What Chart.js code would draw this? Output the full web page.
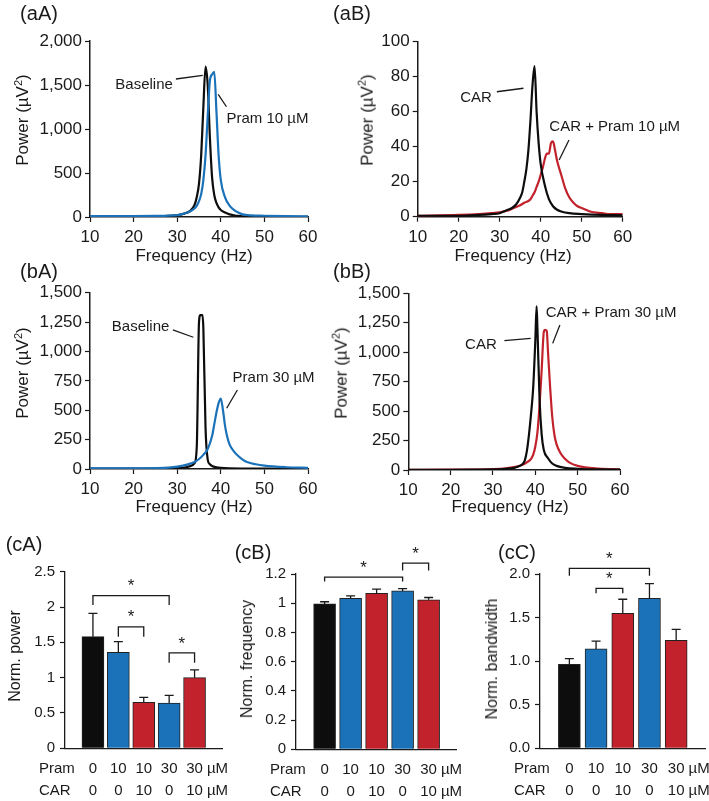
<!DOCTYPE html>
<html>
<head>
<meta charset="utf-8">
<script src="https://cdn.jsdelivr.net/npm/chart.js@4.4.0/dist/chart.umd.min.js"></script>
<style>
  body { margin: 0; background: #fff; font-family: "Liberation Sans", Arial, sans-serif; color: #1a1a1a; }
  #fig { position: relative; width: 709px; height: 801px; overflow: hidden; }
  canvas { position: absolute; }
  .lbl { position: absolute; white-space: nowrap; line-height: 1; transform: translate(-50%, -50%); }
  .rot { transform: translate(-50%, -50%) rotate(-90deg); }
  .pl { font-size: 20px; }
  .ax { font-size: 17px; }
  .bx { font-size: 16px; }
</style>
</head>
<body>
<div id="fig">
  <canvas id="aA" width="350" height="250" style="left:0;top:0"></canvas>
  <canvas id="aB" width="359" height="250" style="left:350px;top:0"></canvas>
  <canvas id="bA" width="350" height="250" style="left:0;top:250px"></canvas>
  <canvas id="bB" width="359" height="250" style="left:350px;top:250px"></canvas>
  <canvas id="cA" width="235" height="281" style="left:0;top:520px"></canvas>
  <canvas id="cB" width="235" height="281" style="left:235px;top:520px"></canvas>
  <canvas id="cC" width="239" height="281" style="left:470px;top:520px"></canvas>

  <div class="lbl pl" style="left:39px;top:13px">(aA)</div>
  <div class="lbl pl" style="left:352px;top:13px">(aB)</div>
  <div class="lbl pl" style="left:39px;top:271px">(bA)</div>
  <div class="lbl pl" style="left:352px;top:271px">(bB)</div>
  <div class="lbl pl" style="left:24px;top:544px">(cA)</div>
  <div class="lbl pl" style="left:253px;top:552px">(cB)</div>
  <div class="lbl pl" style="left:517px;top:552px">(cC)</div>

  <div class="lbl ax rot" style="left:22px;top:120px">Power (µV<sup style="font-size:11px">2</sup>)</div>
  <div class="lbl ax rot" style="left:366px;top:120px">Power (µV<sup style="font-size:11px">2</sup>)</div>
  <div class="lbl ax rot" style="left:22px;top:373px">Power (µV<sup style="font-size:11px">2</sup>)</div>
  <div class="lbl ax rot" style="left:340px;top:373px">Power (µV<sup style="font-size:11px">2</sup>)</div>
  <div class="lbl ax" style="left:194px;top:255px">Frequency (Hz)</div>
  <div class="lbl ax" style="left:513px;top:255px">Frequency (Hz)</div>
  <div class="lbl ax" style="left:194px;top:506px">Frequency (Hz)</div>
  <div class="lbl ax" style="left:510px;top:506px">Frequency (Hz)</div>

  <div class="lbl bx rot" style="left:15px;top:656px">Norm. power</div>
  <div class="lbl bx rot" style="left:247px;top:659px">Norm. frequency</div>
  <div class="lbl bx rot" style="left:492px;top:659px">Norm. bandwidth</div>
</div>

<script>
// spectra (Hz, µV^2)
const F_AA_BASE = [10, 15, 20, 25, 28, 30, 31, 32, 33, 34, 34.5, 35, 35.5, 36, 36.5, 37, 37.5, 38, 38.5, 39, 39.5, 40, 41, 42, 43, 44, 45, 47, 50, 55, 60];
const P_AA_BASE = [5, 5, 5, 8, 12, 20, 30, 45, 70, 140, 230, 380, 700, 1250, 1710, 1500, 900, 450, 250, 160, 110, 80, 50, 30, 20, 12, 8, 5, 4, 3, 3];
const F_AA_PRAM = [10, 15, 20, 25, 28, 30, 31, 32, 33, 34, 34.5, 35, 35.5, 36, 36.5, 37, 37.5, 38, 38.5, 39, 39.5, 40, 41, 42, 43, 44, 45, 47, 50, 55, 60];
const P_AA_PRAM = [10, 10, 10, 12, 15, 22, 30, 45, 65, 100, 130, 180, 260, 420, 700, 1150, 1550, 1620, 1650, 1200, 700, 420, 220, 130, 80, 50, 30, 18, 14, 10, 8];

const F_AB_CAR = [10, 20, 25, 28, 30, 31, 32, 33, 34, 35, 35.5, 36, 36.5, 37, 37.5, 38, 38.5, 39, 39.5, 40, 41, 42, 43, 44, 45, 47, 50, 55, 60];
const P_AB_CAR = [0.5, 0.5, 1, 1.5, 2, 3, 4, 5, 7, 11, 14, 20, 27, 38, 55, 75, 86, 60, 42, 30, 18, 10, 6, 4, 3, 2, 1.5, 1, 0.8];
const F_AB_MIX = [10, 20, 25, 28, 30, 31, 32, 33, 34, 35, 36, 37, 37.5, 38, 38.5, 39, 39.5, 40, 40.5, 41, 41.5, 42, 42.5, 43, 43.5, 44, 45, 46, 47, 48, 49, 50, 51, 52, 55, 57, 60];
const P_AB_MIX = [0.5, 1, 1.5, 2, 2.5, 3, 3.5, 4.5, 5.5, 6.5, 8, 9, 10, 12, 14, 17, 20, 24, 28, 33, 36, 36, 42, 43, 38, 32, 24, 16, 11, 8, 6, 5, 4, 3, 2, 1.5, 1.5];

const F_BA_BASE = [10, 20, 25, 30, 32, 33, 34, 34.5, 35, 35.3, 35.8, 36, 36.5, 37, 37.5, 38, 39, 40, 42, 45, 50, 60];
const P_BA_BASE = [3, 3, 4, 8, 15, 25, 50, 200, 1250, 1310, 1310, 1200, 350, 80, 40, 25, 15, 10, 6, 4, 3, 2];
const F_BA_PRAM = [10, 20, 25, 28, 30, 32, 34, 35, 36, 37, 38, 38.5, 39, 39.5, 40, 40.5, 41, 41.5, 42, 43, 44, 45, 46, 48, 50, 55, 60];
const P_BA_PRAM = [5, 6, 8, 12, 20, 35, 60, 85, 120, 170, 280, 380, 480, 560, 600, 500, 360, 270, 210, 150, 110, 80, 60, 40, 28, 15, 10];

const F_BB_CAR = [10, 20, 25, 30, 33, 35, 36, 37, 37.5, 38, 38.5, 39, 39.5, 40, 40.3, 40.5, 41, 41.5, 42, 43, 44, 45, 47, 50, 55, 60];
const P_BB_CAR = [2, 2, 3, 5, 10, 18, 30, 50, 80, 160, 300, 480, 700, 1100, 1390, 1200, 600, 300, 170, 100, 55, 35, 18, 10, 5, 3];
const F_BB_MIX = [10, 20, 25, 30, 33, 35, 37, 38, 39, 39.5, 40, 40.5, 41, 41.5, 42, 42.3, 42.7, 43, 43.5, 44, 44.5, 45, 46, 47, 48, 50, 55, 60];
const P_BB_MIX = [2, 3, 4, 8, 15, 25, 45, 65, 95, 130, 200, 320, 550, 850, 1170, 1190, 1180, 1000, 700, 450, 300, 220, 140, 95, 65, 35, 12, 6];

// bar panels
const PRAM = ['0', '10', '10', '30', '30'];
const CAR = ['0', '0', '10', '0', '10'];
const POWER_MEAN = [1.58, 1.36, 0.65, 0.64, 1.00];
const POWER_SEM = [0.33, 0.15, 0.07, 0.11, 0.11];
const FREQ_MEAN = [0.995, 1.034, 1.068, 1.084, 1.023];
const FREQ_SEM = [0.015, 0.016, 0.028, 0.016, 0.016];
const BW_MEAN = [0.964, 1.14, 1.55, 1.72, 1.24];
const BW_SEM = [0.066, 0.09, 0.16, 0.17, 0.125];

const BLACK = '#0d0d0d', BLUE = '#1b72b9', RED = '#c2222b', INK = '#1a1a1a';
const BAR_COLORS = [BLACK, BLUE, RED, BLUE, RED];
const FONT = '"Liberation Sans", Arial, sans-serif';

// leader lines + labels inside the spectra panels
const notesPlugin = {
  id: 'notes',
  afterDatasetsDraw(chart, args, o) {
    const { ctx, scales: { x, y } } = chart;
    ctx.save();
    ctx.strokeStyle = INK; ctx.lineWidth = 1.3;
    (o.leaders || []).forEach(([x1, y1, x2, y2]) => {
      ctx.beginPath();
      ctx.moveTo(x.getPixelForValue(x1), y.getPixelForValue(y1));
      ctx.lineTo(x.getPixelForValue(x2), y.getPixelForValue(y2));
      ctx.stroke();
    });
    ctx.fillStyle = INK; ctx.font = '15px ' + FONT; ctx.textBaseline = 'middle';
    (o.labels || []).forEach(l => {
      ctx.textAlign = l.align;
      ctx.fillText(l.text, x.getPixelForValue(l.x), y.getPixelForValue(l.y));
    });
    ctx.restore();
  }
};

// error bars, significance brackets and the Pram / CAR rows
const barPlugin = {
  id: 'extras',
  afterDatasetsDraw(chart, args, o) {
    const { ctx, scales: { x, y }, chartArea } = chart;
    ctx.save();
    ctx.strokeStyle = INK; ctx.lineWidth = 1.3;
    o.mean.forEach((m, i) => {
      const px = x.getPixelForValue(i);
      const top = y.getPixelForValue(m + o.sem[i]);
      ctx.beginPath();
      ctx.moveTo(px, y.getPixelForValue(m)); ctx.lineTo(px, top);
      ctx.moveTo(px - 4.5, top); ctx.lineTo(px + 4.5, top);
      ctx.stroke();
    });
    ctx.fillStyle = INK;
    o.brackets.forEach(b => {
      const xa = x.getPixelForValue(b.a), xb = x.getPixelForValue(b.b);
      const yt = y.getPixelForValue(b.top), yf = y.getPixelForValue(b.foot);
      ctx.beginPath();
      ctx.moveTo(xa, yf); ctx.lineTo(xa, yt); ctx.lineTo(xb, yt); ctx.lineTo(xb, yf);
      ctx.stroke();
      ctx.font = '17px ' + FONT; ctx.textAlign = 'center'; ctx.textBaseline = 'middle';
      ctx.fillText('*', (xa + xb) / 2, yt - 9);
    });
    ctx.font = '15px ' + FONT; ctx.textBaseline = 'middle';
    const rows = [['Pram', PRAM, 21], ['CAR', CAR, 43]];
    rows.forEach(([name, vals, dy]) => {
      const yy = chartArea.bottom + dy;
      ctx.textAlign = 'left';
      ctx.fillText(name, chartArea.left - 26, yy);
      vals.forEach((v, i) => {
        const px = x.getPixelForValue(i);
        ctx.textAlign = 'center';
        ctx.fillText(v, px, yy);
        if (i === vals.length - 1) {
          ctx.textAlign = 'left';
          ctx.fillText('µM', px + ctx.measureText(v).width / 2 + 4, yy);
        }
      });
    });
    ctx.restore();
  }
};

const tickFont = size => ({ family: FONT, size });

function makeLine(id, area, series, yMax, yStep, notes) {
  const c = document.getElementById(id);
  return new Chart(c, {
    type: 'line',
    data: {
      datasets: series.map(s => ({
        data: s.f.map((f, i) => ({ x: f, y: s.p[i] })),
        borderColor: s.color, borderWidth: 2.2, pointRadius: 0,
        cubicInterpolationMode: 'monotone', fill: false
      }))
    },
    options: {
      responsive: false, animation: false, events: [],
      layout: { padding: { top: area.T, right: c.width - area.R, bottom: 0, left: 0 } },
      plugins: { legend: { display: false }, tooltip: { enabled: false }, notes },
      scales: {
        x: {
          type: 'linear', min: 10, max: 60,
          afterFit: s => { s.height = c.height - area.B; },
          ticks: { stepSize: 10, color: INK, font: tickFont(17), padding: 5, maxRotation: 0 },
          grid: { drawOnChartArea: false, tickLength: 5, tickColor: INK, tickWidth: 1.2 },
          border: { color: INK, width: 1.5 }
        },
        y: {
          min: 0, max: yMax,
          afterFit: s => { s.width = area.L; },
          ticks: { stepSize: yStep, color: INK, font: tickFont(17), padding: 3,
                   callback: v => v.toLocaleString('en-US') },
          grid: { drawOnChartArea: false, tickLength: 5, tickColor: INK, tickWidth: 1.2 },
          border: { color: INK, width: 1.5 }
        }
      }
    },
    plugins: [notesPlugin]
  });
}

function makeBar(id, area, mean, sem, yMax, yStep, digits, brackets) {
  const c = document.getElementById(id);
  return new Chart(c, {
    type: 'bar',
    data: {
      datasets: [{
        data: mean.map((m, i) => ({ x: i, y: m })),
        backgroundColor: BAR_COLORS, borderColor: '#222', borderWidth: 1,
        borderSkipped: 'start', barThickness: 22
      }]
    },
    options: {
      responsive: false, animation: false, events: [],
      layout: { padding: { top: area.T, right: c.width - area.R, bottom: 0, left: 0 } },
      plugins: { legend: { display: false }, tooltip: { enabled: false },
                 extras: { mean, sem, brackets } },
      scales: {
        x: {
          type: 'linear', min: -1.1, max: 5.08, offset: false, bounds: 'ticks',
          afterFit: s => { s.height = c.height - area.B; },
          ticks: { display: false, stepSize: 1 }, grid: { display: false, offset: false },
          border: { color: INK, width: 1.3 }
        },
        y: {
          min: 0, max: yMax,
          afterFit: s => { s.width = area.L; },
          ticks: { stepSize: yStep, color: INK, font: tickFont(15), padding: 5,
                   callback: v => digits ? v.toFixed(digits) : String(+v.toFixed(2)) },
          grid: { drawOnChartArea: false, tickLength: 5, tickColor: INK, tickWidth: 1.2 },
          border: { color: INK, width: 1.3 }
        }
      }
    },
    plugins: [barPlugin]
  });
}

makeLine('aA', { L: 90, R: 308, T: 41, B: 217 }, [
  { f: F_AA_PRAM, p: P_AA_PRAM, color: BLUE },
  { f: F_AA_BASE, p: P_AA_BASE, color: BLACK }
], 2000, 500, {
  labels: [{ text: 'Baseline', x: 29.0, y: 1500, align: 'right' },
           { text: 'Pram 10 µM', x: 41.3, y: 1114, align: 'left' }],
  leaders: [[29.7, 1568, 35.85, 1610], [39.4, 1394, 41.3, 1253]]
});

makeLine('aB', { L: 67.7, R: 272.7, T: 41.7, B: 216.7 }, [
  { f: F_AB_CAR, p: P_AB_CAR, color: BLACK },
  { f: F_AB_MIX, p: P_AB_MIX, color: RED }
], 100, 20, {
  labels: [{ text: 'CAR', x: 28.1, y: 68, align: 'right' },
           { text: 'CAR + Pram 10 µM', x: 42.1, y: 51.4, align: 'left' }],
  leaders: [[29.3, 71.4, 35.8, 73.4], [46.9, 43.8, 44.5, 32.4]]
});

makeLine('bA', { L: 90, R: 308, T: 42.7, B: 219 }, [
  { f: F_BA_PRAM, p: P_BA_PRAM, color: BLUE },
  { f: F_BA_BASE, p: P_BA_BASE, color: BLACK }
], 1500, 250, {
  labels: [{ text: 'Baseline', x: 28.2, y: 1211, align: 'right' },
           { text: 'Pram 30 µM', x: 42.7, y: 772, align: 'left' }],
  leaders: [[29.0, 1183, 33.7, 1121], [43.8, 672, 41.35, 517]]
});

makeLine('bB', { L: 58.3, R: 270, T: 43.3, B: 220 }, [
  { f: F_BB_CAR, p: P_BB_CAR, color: BLACK },
  { f: F_BB_MIX, p: P_BB_MIX, color: RED }
], 1500, 250, {
  labels: [{ text: 'CAR', x: 30.9, y: 1061, align: 'right' },
           { text: 'CAR + Pram 30 µM', x: 42.45, y: 1335, align: 'left' }],
  leaders: [[32.7, 1098, 38.9, 1118], [45.8, 1231, 44.1, 1075]]
});

makeBar('cA', { L: 65, R: 222, T: 51.7, B: 228.3 }, POWER_MEAN, POWER_SEM, 2.5, 0.5, 0, [
  { a: 0, b: 3, top: 2.16, foot: 2.03 },
  { a: 1, b: 2, top: 1.72, foot: 1.58 },
  { a: 3, b: 4, top: 1.35, foot: 1.21 }
]);

makeBar('cB', { L: 61, R: 221.7, T: 54, B: 229.3 }, FREQ_MEAN, FREQ_SEM, 1.2, 0.2, 0, [
  { a: 0, b: 3, top: 1.178, foot: 1.148 },
  { a: 3, b: 4, top: 1.274, foot: 1.224 }
]);

makeBar('cC', { L: 70, R: 235, T: 54, B: 228.3 }, BW_MEAN, BW_SEM, 2.0, 0.5, 1, [
  { a: 0, b: 3, top: 2.065, foot: 1.98 },
  { a: 1, b: 2, top: 1.835, foot: 1.78 }
]);
</script>
</body>
</html>
